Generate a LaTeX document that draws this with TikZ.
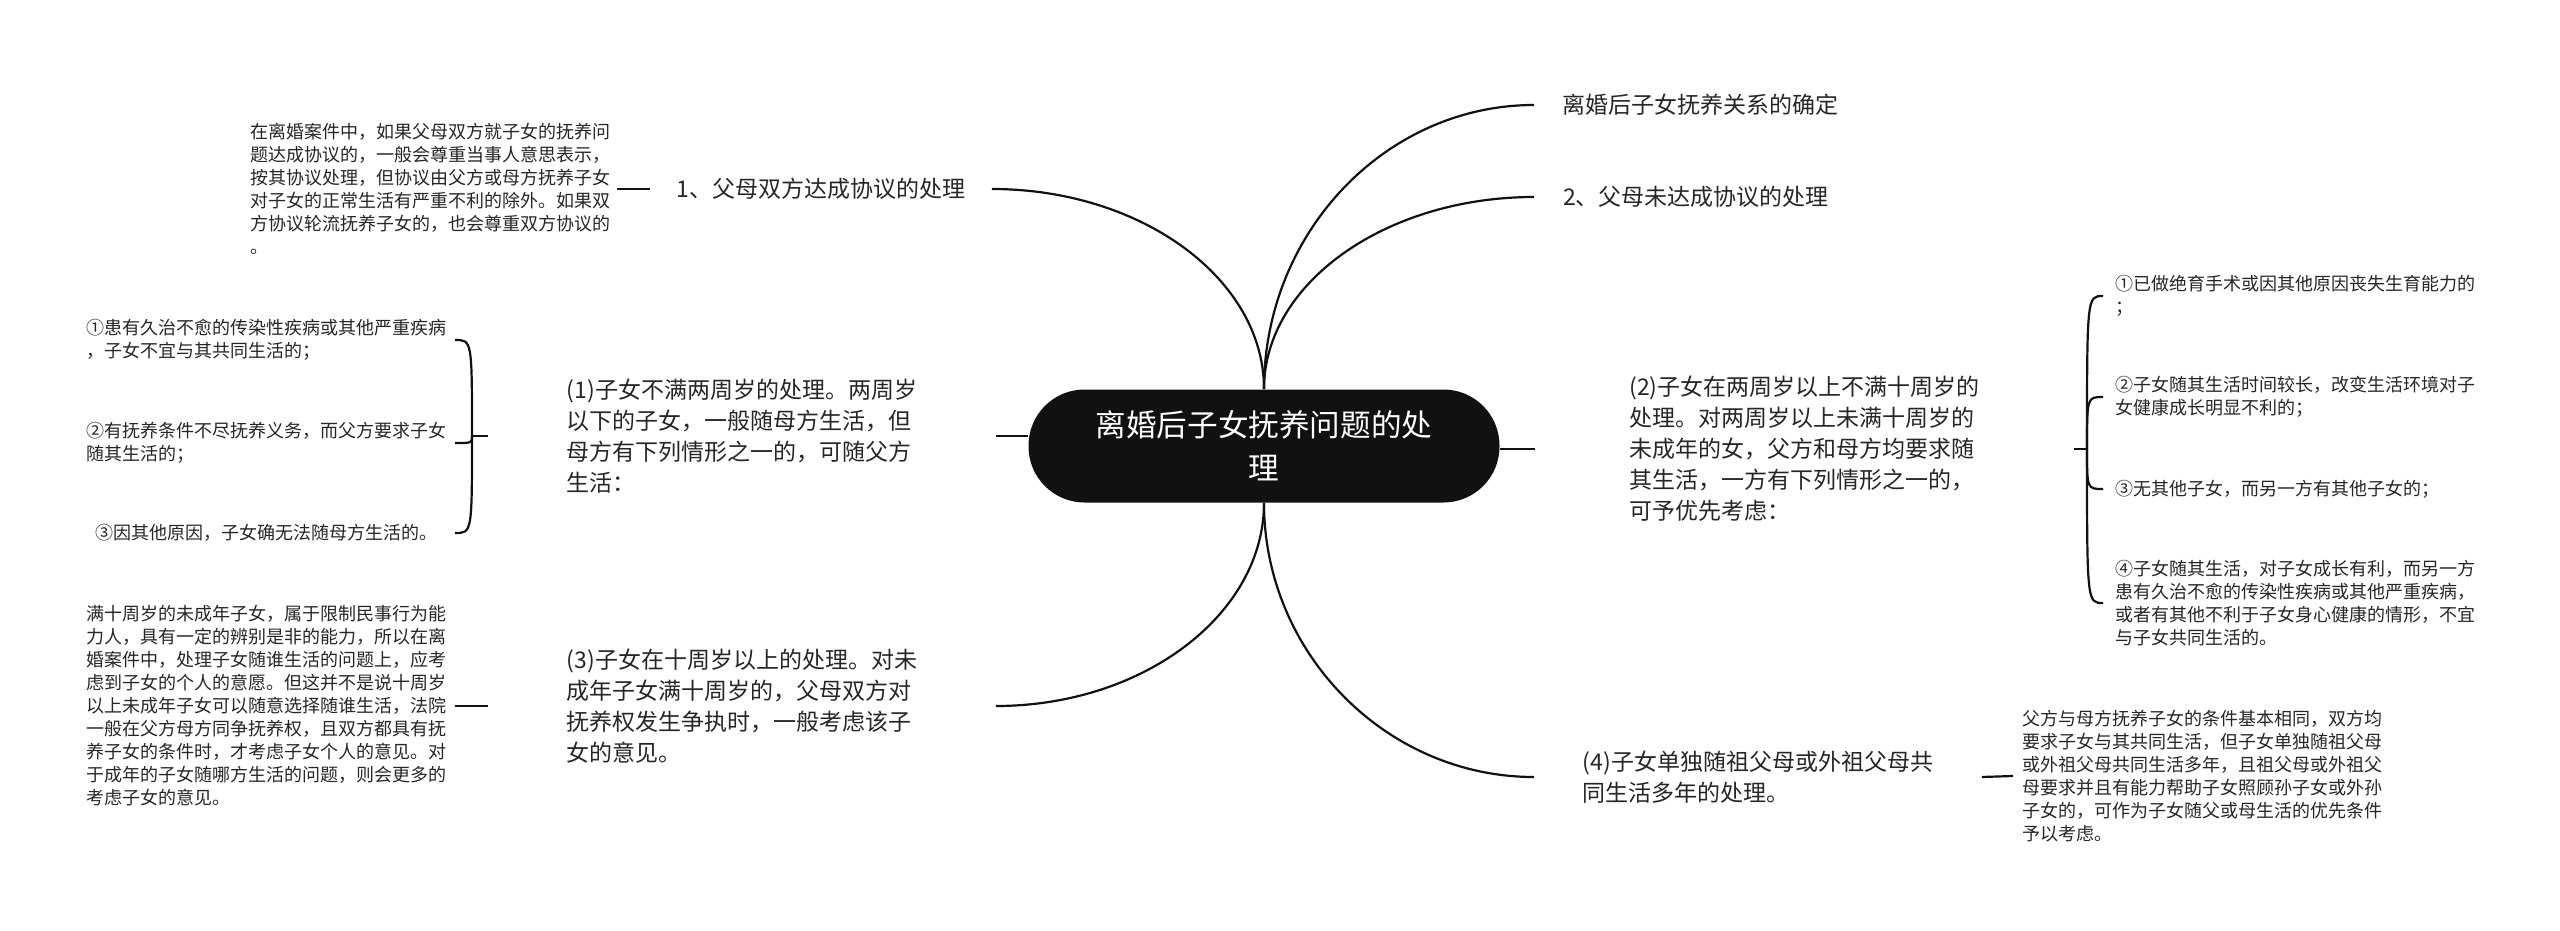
\documentclass[tikz,border=0pt]{standalone}
\usepackage{fontspec}
\setmainfont{Noto Sans CJK SC}
\usepackage{tikz}
\definecolor{mapink}{HTML}{262626}
\definecolor{mapdark}{HTML}{111111}
\tikzset{
  rootnode/.style={fill=mapdark,text=white,rounded corners=28pt,minimum width=235.5pt,minimum height=56.5pt,
    align=center,inner sep=0pt,font=\fontsize{15.3}{21.5}\selectfont},
  topicnode/.style={text=mapink,align=left,inner sep=0pt,font=\fontsize{11.5}{15.5}\selectfont},
  leafnode/.style={text=mapink,align=left,inner sep=0pt,font=\fontsize{9}{11.5}\selectfont},
  link/.style={mapdark,line width=1.1pt}
}

\begin{document}
\begin{tikzpicture}[x=0.5pt,y=-0.5pt]
    \useasboundingbox (0,0) rectangle (2560,931);
    \node[rootnode] (root) at (1264,446) {离婚后子女抚养问题的处\\理};
    \node[topicnode,anchor=west,minimum width=170.5pt] (l1) at (650,189) {1、父母双方达成协议的处理};
    \node[topicnode,anchor=west,minimum width=166.5pt] (r1) at (1534,105) {离婚后子女抚养关系的确定};
    \node[topicnode,anchor=west,minimum width=161.5pt] (r2) at (1534,197) {2、父母未达成协议的处理};
    \node[topicnode,anchor=west,minimum width=253.5pt] (l2) at (488,436) {(1)子女不满两周岁的处理。两周岁\\以下的子女，一般随母方生活，但\\母方有下列情形之一的，可随父方\\生活：};
    \node[topicnode,anchor=west,minimum width=253.5pt] (l3) at (488,706) {(3)子女在十周岁以上的处理。对未\\成年子女满十周岁的，父母双方对\\抚养权发生争执时，一般考虑该子\\女的意见。};
    \node[topicnode,anchor=west,minimum width=269pt] (r3) at (1535,449) {(2)子女在两周岁以上不满十周岁的\\处理。对两周岁以上未满十周岁的\\未成年的女，父方和母方均要求随\\其生活，一方有下列情形之一的，\\可予优先考虑：};
    \node[topicnode,anchor=west,minimum width=223.5pt] (r4) at (1534,777) {(4)子女单独随祖父母或外祖父母共\\同生活多年的处理。};
    \node[leafnode,anchor=east,minimum width=186pt] (l1a) at (617,189) {在离婚案件中，如果父母双方就子女的抚养问\\题达成协议的，一般会尊重当事人意思表示，\\按其协议处理，但协议由父方或母方抚养子女\\对子女的正常生活有严重不利的除外。如果双\\方协议轮流抚养子女的，也会尊重双方协议的\\。};
    \node[leafnode,anchor=east,minimum width=188pt] (l2a) at (455,340) {①患有久治不愈的传染性疾病或其他严重疾病\\，子女不宜与其共同生活的；};
    \node[leafnode,anchor=east,minimum width=188pt] (l2b) at (455,443) {②有抚养条件不尽抚养义务，而父方要求子女\\随其生活的；};
    \node[leafnode,anchor=east,minimum width=188pt] (l2c) at (455,533) {③因其他原因，子女确无法随母方生活的。};
    \node[leafnode,anchor=east,minimum width=188pt] (l3a) at (455,706) {满十周岁的未成年子女，属于限制民事行为能\\力人，具有一定的辨别是非的能力，所以在离\\婚案件中，处理子女随谁生活的问题上，应考\\虑到子女的个人的意愿。但这并不是说十周岁\\以上未成年子女可以随意选择随谁生活，法院\\一般在父方母方同争抚养权，且双方都具有抚\\养子女的条件时，才考虑子女个人的意见。对\\于成年的子女随哪方生活的问题，则会更多的\\考虑子女的意见。};
    \node[leafnode,anchor=west,inner xsep=6pt] (r3a) at (2103,296) {①已做绝育手术或因其他原因丧失生育能力的\\；};
    \node[leafnode,anchor=west,inner xsep=6pt] (r3b) at (2103,397) {②子女随其生活时间较长，改变生活环境对子\\女健康成长明显不利的；};
    \node[leafnode,anchor=west,inner xsep=6pt] (r3c) at (2103,489) {③无其他子女，而另一方有其他子女的；};
    \node[leafnode,anchor=west,inner xsep=6pt] (r3d) at (2103,603) {④子女随其生活，对子女成长有利，而另一方\\患有久治不愈的传染性疾病或其他严重疾病，\\或者有其他不利于子女身心健康的情形，不宜\\与子女共同生活的。};
    \node[leafnode,anchor=west,inner xsep=4.5pt] (r4a) at (2013,776) {父方与母方抚养子女的条件基本相同，双方均\\要求子女与其共同生活，但子女单独随祖父母\\或外祖父母共同生活多年，且祖父母或外祖父\\母要求并且有能力帮助子女照顾孙子女或外孙\\子女的，可作为子女随父或母生活的优先条件\\予以考虑。};
    \coordinate (j2) at (472,436);
    \coordinate (j3) at (2087,449);
    \draw[link] (root.north) .. controls +(0,-110) and +(150,0) .. (l1.east);
    \draw[link] (root.north) .. controls +(0,-157) and +(-148,0) .. (r1.west);
    \draw[link] (root.north) .. controls +(0,-106) and +(-148,0) .. (r2.west);
    \draw[link] (root.south) .. controls +(0,111) and +(148,0) .. (l3.east);
    \draw[link] (root.south) .. controls +(0,150) and +(-148,0) .. (r4.west);
    \draw[link] (l2.east) -- (root.west |- l2.east);
    \draw[link] (root.east |- r3.west) -- (r3.west);
    \draw[link] (l1.west) -- (l1a.east);
    \draw[link] (l3.west) -- (l3a.east);
    \draw[link] (r4.east) -- (r4a.west);
    \draw[link] (l2.west) -- (j2);
    \draw[link] (r3.east) -- (j3);
    \foreach \leaf in {l2a,l2b,l2c} \draw[link] (j2) .. controls (j2 |- \leaf.east) .. (\leaf.east);
    \foreach \leaf in {r3a,r3b,r3c,r3d} \draw[link] (j3) .. controls (j3 |- \leaf.west) .. (\leaf.west);
  \end{tikzpicture}
\end{document}
